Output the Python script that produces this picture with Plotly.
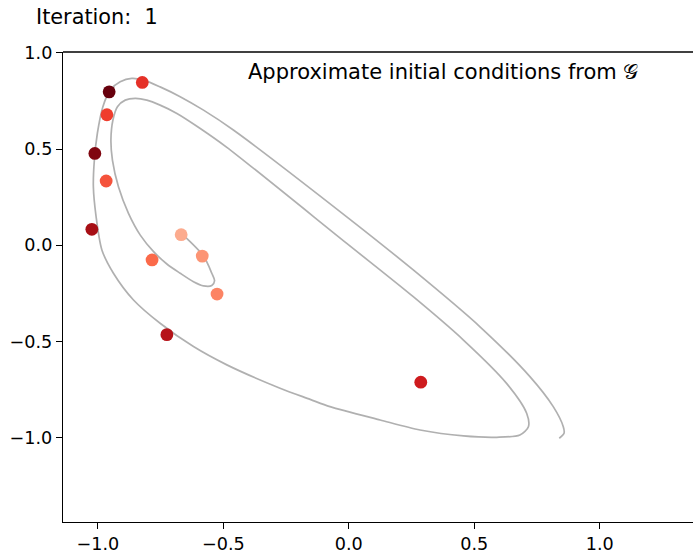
import plotly.graph_objects as go

# Trajectory (gray curve), in data coordinates, in order along the path
traj_x = [-0.665, -0.579, -0.546, -0.535, -0.546, -0.579, -0.619, -0.672, -0.725, -0.778,
          -0.831, -0.878, -0.918, -0.942, -0.948, -0.940, -0.922, -0.891, -0.851, -0.805,
          -0.752, -0.685, -0.592, -0.486, -0.008, 0.257, 0.457, 0.629, 0.709, 0.716,
          0.682, 0.590, 0.457, 0.284, 0.125, -0.075, -0.154, -0.274, -0.486,
          -0.619, -0.752, -0.858, -0.938, -0.984, -1.007, -1.018, -1.014, -1.002, -0.980,
          -0.951, -0.911, -0.865, -0.818, -0.752, -0.672, -0.579, -0.460, -0.008, 0.257,
          0.523, 0.722, 0.815, 0.855, 0.858, 0.839]
traj_y = [0.059, -0.056, -0.145, -0.184, -0.209, -0.211, -0.189, -0.145, -0.097, -0.033,
          0.053, 0.166, 0.304, 0.443, 0.547, 0.651, 0.720, 0.754, 0.763, 0.754,
          0.728, 0.685, 0.607, 0.509, 0.010, -0.267, -0.492, -0.717, -0.872, -0.942,
          -0.985, -0.997, -0.990, -0.959, -0.907, -0.838, -0.800, -0.742, -0.621,
          -0.526, -0.405, -0.284, -0.145, -0.024, 0.148, 0.304, 0.443, 0.582, 0.720,
          0.806, 0.849, 0.867, 0.858, 0.823, 0.772, 0.702, 0.599, 0.148, -0.128,
          -0.423, -0.682, -0.838, -0.942, -0.976, -1.002]

# Approximate initial conditions (scatter points) and their colour values
pts_x = [-0.955, -0.823, -0.964, -1.012, -0.967, -1.024, -0.668, -0.584, -0.784, -0.525, -0.725, 0.287]
pts_y = [0.797, 0.846, 0.678, 0.477, 0.334, 0.083, 0.055, -0.056, -0.076, -0.253, -0.464, -0.711]
pts_val = [1.00, 0.66, 0.62, 0.95, 0.56, 0.87, 0.30, 0.37, 0.50, 0.42, 0.82, 0.74]

x_ticks = [-1.0, -0.5, 0.0, 0.5, 1.0]
y_ticks = [-1.0, -0.5, 0.0, 0.5, 1.0]

title_text = "Iteration:  1"
note_text = "Approximate initial conditions from 𝒢"

reds = ['rgb(255,245,240)', 'rgb(254,224,210)', 'rgb(252,187,161)', 'rgb(252,146,114)',
        'rgb(251,106,74)', 'rgb(239,59,44)', 'rgb(203,24,29)', 'rgb(165,15,21)', 'rgb(103,0,13)']
reds_scale = [[i / (len(reds) - 1), c] for i, c in enumerate(reds)]

W, H = 693, 553
ml, mt, mb, mr = 63, 52, 31, 0
pw, ph = W - ml - mr, H - mt - mb

fig = go.Figure()
fig.add_trace(go.Scatter(x=traj_x, y=traj_y, mode="lines",
                         line=dict(color="rgba(150,150,150,0.75)", width=1.7, shape="spline", smoothing=0.8),
                         hoverinfo="skip", showlegend=False))
fig.add_trace(go.Scatter(x=pts_x, y=pts_y, mode="markers",
                         marker=dict(size=12.8, color=pts_val, colorscale=reds_scale, cmin=0, cmax=1,
                                     line=dict(width=0)),
                         showlegend=False))

font_fam = "DejaVu Sans"
axis_common = dict(showgrid=False, zeroline=False, showline=True, linecolor="black", linewidth=1.3,
                   ticks="outside", ticklen=6, tickwidth=1.3, tickcolor="black",
                   tickfont=dict(family=font_fam, size=17.6, color="black"), tickformat=".1f")

fig.update_layout(
    width=W, height=H, margin=dict(l=ml, r=mr, t=mt, b=mb, pad=0),
    paper_bgcolor="white", plot_bgcolor="white",
    xaxis=dict(range=[-1.139, 1.372], tickvals=x_ticks, **axis_common),
    yaxis=dict(range=[-1.437, 1.004], tickvals=y_ticks, **axis_common),
    font=dict(family=font_fam, color="black"),
    shapes=[dict(type="line", xref="paper", yref="paper", x0=0, x1=1, y0=1, y1=1,
                 line=dict(color="black", width=1.3))],
    annotations=[
        dict(text=title_text, xref="paper", yref="paper", x=(33.5 - ml) / pw, y=(H - mb - 17.1) / ph,
             xanchor="left", yanchor="middle", showarrow=False,
             font=dict(family=font_fam, size=20.8, color="black")),
        dict(text=note_text, xref="x", yref="y", x=-0.409, y=0.900,
             xanchor="left", yanchor="middle", showarrow=False,
             font=dict(family=font_fam, size=21.0, color="black")),
    ],
)

fig.write_html("out.html")
